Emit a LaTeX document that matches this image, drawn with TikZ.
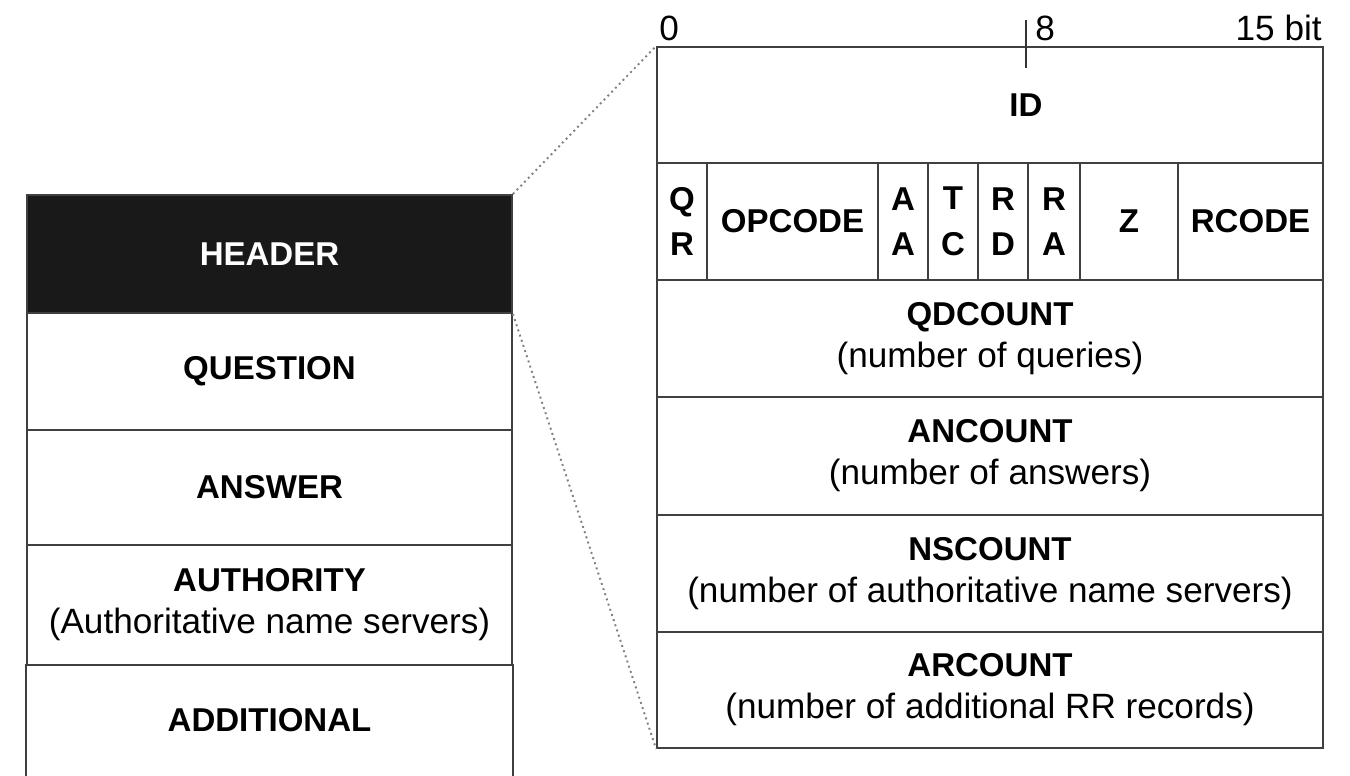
\documentclass[tikz,border=0pt]{standalone}
\usepackage{fontspec}
\setmainfont{Liberation Sans}
\usetikzlibrary{positioning}
\tikzset{
  field/.style={draw=black!75, line width=1.1pt, inner sep=0pt, align=center,
    font=\bfseries\fontsize{18.8}{24}\selectfont},
  flag/.style={field, minimum height=2.34cm, font=\bfseries\fontsize{18.8}{26}\selectfont},
  zoomline/.style={draw=black!50, dotted, line width=1.1pt},
  bitlabel/.style={inner sep=0pt, font=\fontsize{20}{24}\selectfont}
}
\newcommand{\sub}[1]{\\{\mdseries\fontsize{20}{24}\selectfont #1}}
\begin{document}
\begin{tikzpicture}[x=0.02cm,y=-0.02cm]
   \useasboundingbox (0,0) rectangle (1350,775);
   % message sections
   \node[field, fill=black!90, text=white, minimum width=9.7cm, minimum height=2.36cm] (header) at (269.5,254) {HEADER};
   \node[field, minimum width=9.7cm, minimum height=2.34cm] (question) at (269.5,371.5) {QUESTION};
   \node[field, minimum width=9.7cm, minimum height=2.30cm] (answer) at (269.5,487.5) {ANSWER};
   \node[field, minimum width=9.7cm, minimum height=2.40cm] (authority) at (269.5,605) {AUTHORITY\sub{(Authoritative name servers)}};
   \node[field, draw=none, minimum width=9.7cm, minimum height=2.2cm] (additional) at (269.5,720) {ADDITIONAL};
   \draw[black!75, line width=1.1pt] (additional.north west) -- (additional.south west);
   \draw[black!75, line width=1.1pt] (additional.north east) -- (additional.south east);
   % header fields
   \node[field, minimum width=13.32cm, minimum height=2.32cm] (id) at (990,105) {\hspace*{1.44cm}ID};
   \foreach \name/\cx/\w/\txt in {qr/682/1.0/{Q\\R}, opcode/792.5/3.42/OPCODE, aa/903/1.0/{A\\A},
       tc/953/1.0/{T\\C}, rd/1003/1.0/{R\\D}, ra/1054/1.04/{R\\A}, z/1129/1.96/Z, rcode/1250.5/2.9/RCODE}
     \node[flag, minimum width=\w cm] (\name) at (\cx,221.5) {\txt};
   \node[field, minimum width=13.32cm, minimum height=2.34cm] (qdcount) at (990,338.5) {QDCOUNT\sub{(number of queries)}};
   \node[field, minimum width=13.32cm, minimum height=2.36cm] (ancount) at (990,456) {ANCOUNT\sub{(number of answers)}};
   \node[field, minimum width=13.32cm, minimum height=2.34cm] (nscount) at (990,573.5) {NSCOUNT\sub{(number of authoritative name servers)}};
   \node[field, minimum width=13.32cm, minimum height=2.32cm] (arcount) at (990,690) {ARCOUNT\sub{(number of additional RR records)}};
   % bit scale
   \node[bitlabel, anchor=base west] (bit0) at (659,40) {0};
   \node[bitlabel, anchor=base west] (bit8) at (1035,40) {8};
   \node[bitlabel, anchor=base east] (bit15) at (1322,40) {15 bit};
   \coordinate (tick top) at (1026,20);
   \coordinate (tick bottom) at (1026,68);
   \draw[black!80, line width=1.3pt] (tick top) -- (tick bottom);
   % zoom
   \draw[zoomline] (header.north east) -- (id.north west);
   \draw[zoomline] (header.south east) -- (arcount.south west);
\end{tikzpicture}
\end{document}
